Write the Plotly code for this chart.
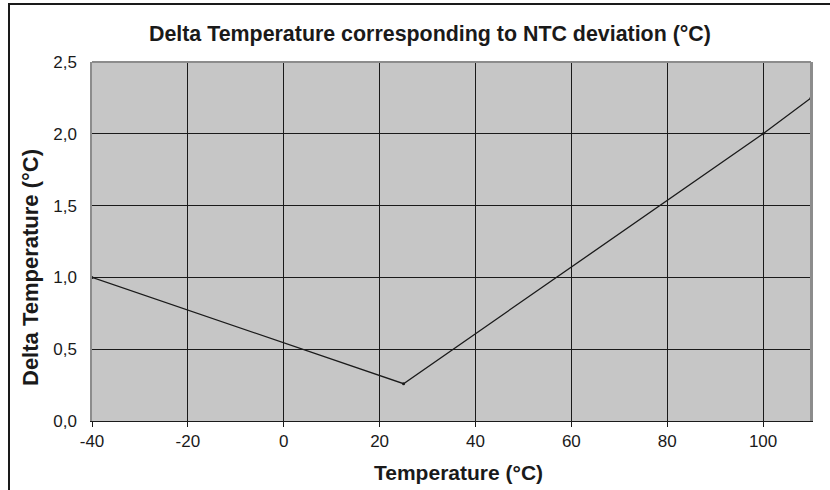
import plotly.graph_objects as go

temperature = [-40, 25, 100, 110]
delta_temp = [1.0, 0.26, 2.0, 2.25]
x_ticks = [-40, -20, 0, 20, 40, 60, 80, 100]
y_ticks = [0.0, 0.5, 1.0, 1.5, 2.0, 2.5]

FONT = "Liberation Sans, Arial, sans-serif"

fig = go.Figure()
fig.add_trace(go.Scatter(
    x=temperature, y=delta_temp, mode="lines+markers",
    line=dict(color="#1a1a1a", width=1.3),
    marker=dict(color="#1a1a1a", size=3),
    showlegend=False, cliponaxis=False,
))

fig.update_layout(
    width=830, height=490,
    margin=dict(l=92, r=19, t=62, b=69),
    paper_bgcolor="white", plot_bgcolor="#c6c6c6",
    separators=",.",
    title=dict(text="<b>Delta Temperature corresponding to NTC deviation (°C)</b>",
               x=0.518, xanchor="center", y=0.931, yanchor="middle",
               font=dict(family=FONT, size=21.4, color="#1a1a1a")),
    font=dict(family=FONT, color="#1a1a1a"),
)
fig.update_xaxes(
    range=[-40, 110], tickvals=x_ticks, ticktext=[str(v) for v in x_ticks],
    tickfont=dict(size=17),
    showgrid=True, gridcolor="#1a1a1a", gridwidth=1,
    showline=True, linecolor="#1a1a1a", linewidth=1,
    ticks="outside", ticklen=5, tickcolor="#1a1a1a",
    zeroline=False,
)
fig.update_yaxes(
    range=[0, 2.5], tickvals=y_ticks, tickformat=".1f", tickfont=dict(size=17),
    ticklabelstandoff=10,
    showgrid=True, gridcolor="#1a1a1a", gridwidth=1,
    showline=True, linecolor="#8c8c8c", linewidth=1.5, mirror=True,
    ticks="", zeroline=False,
)
# axis titles
fig.add_annotation(text="<b>Temperature (°C)</b>", xref="paper", yref="paper",
                   x=(458 - 92) / 719, y=(421 - 472) / 359, showarrow=False,
                   xanchor="center", yanchor="middle", font=dict(size=21))
fig.add_annotation(text="<b>Delta Temperature (°C)</b>", xref="paper", yref="paper",
                   x=(30 - 92) / 719, y=(421 - 268) / 359, showarrow=False,
                   textangle=-90, xanchor="center", yanchor="middle",
                   font=dict(size=22))
# gray right/top border of plot area
fig.add_shape(type="line", xref="paper", yref="paper", x0=0, x1=1, y0=1, y1=1,
              line=dict(color="#8c8c8c", width=2))
fig.add_shape(type="line", xref="paper", yref="paper", x0=1, x1=1, y0=0, y1=1,
              line=dict(color="#8c8c8c", width=2))
# outer frame (left and top)
fig.add_shape(type="rect", xref="paper", yref="paper",
              x0=(9 - 92) / 719, x1=1.2, y0=-0.4, y1=(421 - 4) / 359,
              line=dict(color="#1a1a1a", width=2), layer="above")

fig.write_html("out.html", config={"displayModeBar": False},
               post_script="document.body.style.margin='0';")
